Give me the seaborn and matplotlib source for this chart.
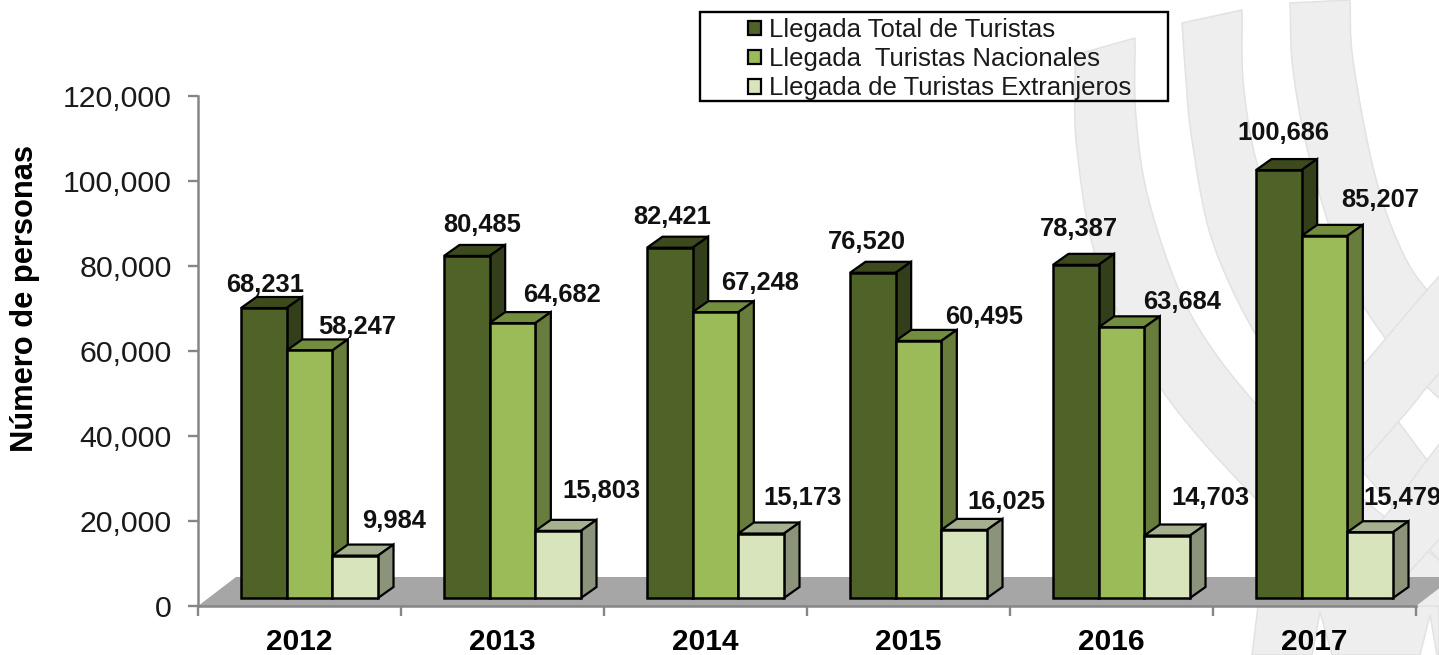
import matplotlib
matplotlib.use("Agg")
import matplotlib.pyplot as plt
import numpy as np
import pandas as pd
import seaborn as sns
from matplotlib.patches import Polygon, Rectangle, Patch
from matplotlib.transforms import IdentityTransform, ScaledTranslation
from matplotlib.ticker import FuncFormatter

years = ["2012", "2013", "2014", "2015", "2016", "2017"]
total = [68231, 80485, 82421, 76520, 78387, 100686]
nacionales = [58247, 64682, 67248, 60495, 63684, 85207]
extranjeros = [9984, 15803, 15173, 16025, 14703, 15479]
series_names = ["Llegada Total de Turistas", "Llegada  Turistas Nacionales",
                "Llegada de Turistas Extranjeros"]

front_colors = ["#4F6228", "#9BBB59", "#D8E4BC"]
side_colors = ["#333F1A", "#687D3B", "#8B947A"]
top_colors = ["#3C4A1E", "#718D3D", "#A5B08F"]

# label offsets (px) from the top-centre of each bar's front face
label_offsets = [
    [(1, -23), (15, -31), (2, -31), (-6, -31), (3, -36), (5, -37)],
    [(48, -23), (49, -28), (45, -29), (66, -24), (61, -25), (56, -36)],
    [(39, -35), (43, -40), (41, -36), (42, -28), (43, -38), (32, -34)],
]

W, H = 1439, 655
sns.set_theme(style="white")
plt.rcParams["font.family"] = ["Liberation Sans", "DejaVu Sans"]
fig = plt.figure(figsize=(W / 100, H / 100), dpi=100, facecolor="white")
ax = fig.add_axes([198 / W, (H - 606) / H, 1218 / W, 510 / H])
ax.patch.set_alpha(0)
ax.set_zorder(2)


def smooth(points, n=16):
    """Catmull-Rom sampling of an edge of a background band."""
    p = np.array(points, float)
    p = np.vstack([2 * p[0] - p[1], p, 2 * p[-1] - p[-2]])
    out = []
    for i in range(1, len(p) - 2):
        for t in np.linspace(0, 1, n, endpoint=False):
            a, b, c, d = p[i - 1], p[i], p[i + 1], p[i + 2]
            out.append(0.5 * (2 * b + (c - a) * t + (2 * a - 5 * b + 4 * c - d) * t ** 2
                              + (3 * b - a - 3 * c + d) * t ** 3))
    out.append(p[-2])
    return np.array(out)


# watermark bands behind the chart: (left/upper edge, right/lower edge), image pixels
WM_FILL, WM_EDGE = "#EEEEEE", "#E2E2E2"
bands = [
    ([(1075, 55), (1077, 150), (1100, 270), (1162, 390), (1257, 500), (1340, 575), (1400, 625)],
     [(1135, 38), (1136, 117), (1150, 205), (1190, 313), (1257, 405), (1340, 480), (1439, 560),
      (1490, 600)]),
    ([(1182, 23), (1186, 80), (1192, 140), (1212, 240), (1257, 337), (1310, 410), (1370, 480),
      (1439, 560), (1490, 610)],
     [(1242, 10), (1244, 90), (1262, 180), (1310, 290), (1365, 375), (1427, 460), (1490, 540)]),
    ([(1290, 3), (1293, 70), (1310, 160), (1345, 270), (1385, 338), (1427, 387), (1490, 440)],
     [(1350, 0), (1353, 60), (1373, 167), (1397, 240), (1427, 290), (1490, 350)]),
    ([(1470, 243), (1427, 290), (1365, 363), (1290, 450)],
     [(1470, 338), (1427, 387), (1400, 420), (1290, 545)]),
    ([(1470, 405), (1427, 460), (1390, 510), (1340, 570)],
     [(1470, 505), (1380, 600), (1340, 600)]),
]
lower_piece = [(1258, 606), (1252, 655), (1312, 655), (1320, 612), (1332, 655), (1420, 655),
               (1430, 615), (1437, 655), (1439, 655), (1439, 606)]

for edge_a, edge_b in bands:
    outline = np.vstack([smooth(edge_a), smooth(edge_b)[::-1]])
    outline[:, 1] = H - outline[:, 1]
    fig.add_artist(Polygon(outline, closed=True, fc=WM_FILL, ec=WM_EDGE, lw=1.1,
                           transform=IdentityTransform(), zorder=0))
lower = np.array(lower_piece, float)
lower[:, 1] = H - lower[:, 1]
fig.add_artist(Polygon(lower, closed=True, fc=WM_FILL, ec=WM_EDGE, lw=1.1,
                       transform=IdentityTransform(), zorder=0))

df = pd.DataFrame({
    "anio": years * 3,
    "valor": total + nacionales + extranjeros,
    "serie": sum([[s] * len(years) for s in series_names], []),
})
sns.barplot(data=df, x="anio", y="valor", hue="serie", hue_order=series_names,
            palette=front_colors, width=0.675, gap=0, dodge=True, saturation=1,
            edgecolor="black", linewidth=1.8, legend=False, ax=ax)

ax.set_xlim(-0.5, 5.5)
ax.set_ylim(0, 120000)
ax.set_yticks(range(0, 120001, 20000))
ax.yaxis.set_major_formatter(FuncFormatter(lambda v, _: f"{int(v):,}"))
ax.set_xticks(range(len(years)), years)
ax.set_xticks([i - 0.5 for i in range(len(years) + 1)], minor=True)
ax.tick_params(axis="x", which="major", length=0, pad=16, labelsize=21.5, labelcolor="black")
ax.tick_params(axis="x", which="minor", length=7, width=1.7, color="#868686", bottom=True)
ax.tick_params(axis="y", which="major", length=7, width=1.7, color="#868686", left=True,
               pad=12, labelsize=21.8, labelcolor="#1a1a1a")
for t in ax.get_xticklabels():
    t.set_fontweight("bold")
ax.set_xlabel("")
ax.set_ylabel("Número de personas", fontsize=22.2, fontweight="bold", color="black")
ax.yaxis.set_label_coords((40 - 198) / 1218, (606 - 299) / 510)
sns.despine(ax=ax)
for name in ("left", "bottom"):
    ax.spines[name].set_color("#868686")
    ax.spines[name].set_linewidth(1.8)
    ax.spines[name].set_zorder(3)

# pseudo-3D geometry, all in pixels relative to the library's own bar positions
fig.canvas.draw()
to_disp = ax.transData
FLOOR_DX, FLOOR_DY = 38, 29      # floor depth
SHIFT_X, SHIFT_Y = 10, 8         # bar front face relative to the axis
DX, DY = 15.5, 11                # bar depth

(x0, y0), (x1, _) = to_disp.transform([(-0.5, 0), (5.5, 0)])
floor = Polygon([(x0, y0), (x1, y0), (x1 + FLOOR_DX, y0 + FLOOR_DY), (x0 + FLOOR_DX, y0 + FLOOR_DY)],
                closed=True, fc="#A6A6A6", ec="none", transform=IdentityTransform(), zorder=1)
ax.add_artist(floor)
floor.set_clip_on(False)

for s, container in enumerate(ax.containers):
    for i, bar in enumerate(container):
        z = 2 + i + s * 0.1
        bx = bar.get_x()
        bw = bar.get_width()
        bh = bar.get_height()
        (l, b), (r, t) = to_disp.transform([(bx, 0), (bx + bw, bh)])
        l, r = l + SHIFT_X, r + SHIFT_X
        b, t = b + SHIFT_Y, t + SHIFT_Y
        top = Polygon([(l, t), (r, t), (r + DX, t + DY), (l + DX, t + DY)], closed=True,
                      fc=top_colors[s], ec="black", lw=1.6, transform=IdentityTransform(), zorder=z)
        side = Polygon([(r, b), (r + DX, b + DY), (r + DX, t + DY), (r, t)], closed=True,
                       fc=side_colors[s], ec="black", lw=1.6, transform=IdentityTransform(), zorder=z)
        ax.add_artist(top)
        ax.add_artist(side)
        bar.set_transform(ax.transData + ScaledTranslation(SHIFT_X / 100, SHIFT_Y / 100, fig.dpi_scale_trans))
        bar.set_zorder(z + 0.01)
        bar.set_clip_on(False)
        ox, oy = label_offsets[s][i]
        ax.annotate(f"{int(bh):,}", xy=((l + r) / 2, t), xycoords=IdentityTransform(),
                    xytext=(ox * 0.72, -oy * 0.72), textcoords="offset points",
                    ha="center", va="center", fontsize=18.4, fontweight="bold",
                    color="#111111", zorder=20, annotation_clip=False)

# legend
fig.add_artist(Rectangle((700, H - 101), 468, 89, fc="none", ec="black", lw=1.7,
                         transform=IdentityTransform(), zorder=5))
handles = [Patch(fc=c, ec="black", lw=1.6) for c in front_colors]
leg = ax.legend(handles, series_names, frameon=False, loc="upper left",
                bbox_to_anchor=(748 / W, (H - 18) / H), bbox_transform=fig.transFigure,
                borderpad=0, borderaxespad=0, fontsize=18.55, handlelength=0.5, handleheight=0.5,
                handletextpad=0.31, labelspacing=0.2, labelcolor="#1a1a1a")
leg.set_zorder(30)

fig.savefig("out.png", dpi=100)
